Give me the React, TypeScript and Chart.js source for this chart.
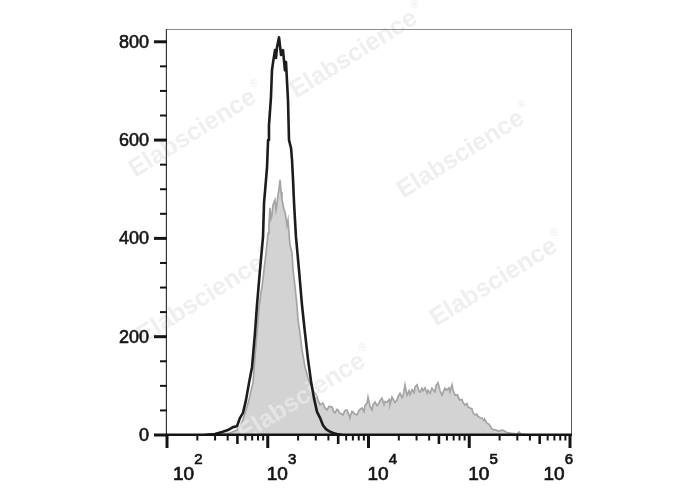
import React, { useEffect, useRef } from "react";
import { Chart, registerables } from "chart.js";

Chart.register(...registerables);

// ---- data (x given as log10 of fluorescence intensity) ----
const blackLogX = [
  2.377, 2.476, 2.546, 2.605, 2.655, 2.695, 2.725, 2.754, 2.784, 2.814,
  2.844, 2.873, 2.893, 2.923, 2.953, 2.963, 2.983, 2.993, 3.003, 3.012,
  3.032, 3.042, 3.052, 3.072, 3.082, 3.092, 3.112, 3.132, 3.151, 3.171,
  3.181, 3.201, 3.211, 3.231, 3.241, 3.251, 3.261, 3.280, 3.310, 3.340,
  3.370, 3.400, 3.429, 3.459, 3.489, 3.519, 3.548, 3.578, 3.608, 3.648,
  3.687, 3.737,
];
const blackCounts = [
  0, 2, 6, 10, 16, 18, 35, 45, 71, 106,
  138, 207, 264, 336, 403, 472, 520, 545, 600, 630,
  687, 742, 757, 783, 767, 789, 809, 773, 783, 742,
  759, 681, 600, 584, 559, 519, 472, 403, 336, 264,
  207, 153, 110, 75, 47, 35, 20, 12, 8, 4,
  2, 0,
];

const grayLogX = [
  2.476, 2.546, 2.625, 2.695, 2.725, 2.754, 2.784, 2.814, 2.834, 2.854,
  2.873, 2.893, 2.913, 2.933, 2.943, 2.963, 2.983, 3.003, 3.012, 3.022,
  3.032, 3.042, 3.052, 3.072, 3.082, 3.092, 3.102, 3.112, 3.122, 3.132,
  3.141, 3.151, 3.161, 3.171, 3.181, 3.191, 3.201, 3.211, 3.221, 3.241,
  3.251, 3.271, 3.290, 3.300, 3.320, 3.340, 3.370, 3.400, 3.419, 3.439,
  3.449, 3.469, 3.489, 3.499,
  3.519, 3.548, 3.568, 3.588, 3.608, 3.638, 3.658, 3.668, 3.687, 3.697,
  3.717, 3.747, 3.767, 3.787, 3.807, 3.816, 3.836, 3.846, 3.866, 3.886,
  3.906, 3.916, 3.936, 3.955, 3.965, 3.985, 3.995, 4.015, 4.035, 4.045,
  4.065, 4.084, 4.094, 4.114, 4.134, 4.154, 4.164, 4.184, 4.204, 4.213,
  4.233, 4.253, 4.263, 4.283, 4.293, 4.313, 4.333, 4.343, 4.362, 4.382,
  4.402, 4.412, 4.432, 4.452, 4.462, 4.482, 4.501, 4.511, 4.531, 4.541,
  4.561, 4.581, 4.591, 4.611, 4.630, 4.640, 4.660, 4.670, 4.690, 4.710,
  4.730, 4.750, 4.759, 4.779, 4.799, 4.809, 4.829, 4.839, 4.859, 4.879,
  4.888, 4.908, 4.928, 4.938, 4.958, 4.978, 4.988, 5.008, 5.027, 5.037,
  5.057, 5.077, 5.087, 5.107, 5.127, 5.147, 5.156, 5.176, 5.196, 5.206,
  5.226, 5.246, 5.256, 5.276, 5.295, 5.305, 5.335, 5.355, 5.375, 5.405,
  5.424, 5.444, 5.474, 5.494, 5.514, 5.554, 5.583,
];
const grayCounts = [
  0, 2, 4, 10, 18, 31, 51, 71, 90, 106,
  160, 207, 260, 290, 301, 336, 370, 410, 427, 462,
  440, 447, 468, 478, 458, 470, 488, 500, 519, 495,
  478, 470, 458, 454, 440, 427, 437, 410, 386, 370,
  336, 301, 264, 234, 207, 173, 138, 116, 106, 96,
  90, 85, 78, 71,
  62, 65, 55, 51, 58, 57, 46, 45, 52, 51,
  44, 41, 50, 51, 40, 37, 48, 47, 42, 41,
  50, 52, 55, 48, 60, 65, 77, 58, 51, 62,
  67, 60, 61, 70, 75, 62, 68, 67, 72, 62,
  77, 70, 66, 71, 78, 85, 76, 80, 102, 81,
  90, 82, 92, 86, 98, 102, 88, 87, 95, 90,
  96, 85, 91, 85, 95, 92, 88, 100, 106, 90,
  81, 92, 95, 92, 96, 88, 102, 91, 81, 82,
  78, 71, 72, 66, 61, 64, 57, 55, 53, 45,
  41, 42, 38, 35, 34, 29, 31, 24, 22, 19,
  12, 10, 11, 9, 8, 9, 10, 7, 5, 4,
  3, 3, 2, 6, 2, 1, 0,
];

const yMajorTicks = [0, 200, 400, 600, 800];
const yMinorTicks = [50, 100, 150, 250, 300, 350, 450, 500, 550, 650, 700, 750];
const xDecades = [2, 3, 4, 5, 6];
const xMinorMultipliers = [2, 3, 4, 5, 6, 7, 8, 9];
const watermarkText = "Elabscience";

const FONT = '"Liberation Sans", Arial, sans-serif';

function heavyText(ctx: CanvasRenderingContext2D, s: string, x: number, y: number) {
  ctx.fillText(s, x, y);
  ctx.strokeText(s, x, y);
}

const axesPlugin = {
  id: "flowAxes",
  afterDatasetDraw(chart: any, args: any) {
    if (args.index !== 1) return; // after the filled gray histogram
    const ctx = chart.ctx;
    const spots = [
      [358, 52], [197, 131], [465, 152], [498, 280], [205, 297], [306, 395],
    ];
    ctx.save();
    ctx.fillStyle = "rgba(234,234,234,0.75)";
    for (const [cx, cy] of spots) {
      ctx.save();
      ctx.translate(cx, cy);
      ctx.rotate((-32 * Math.PI) / 180);
      ctx.font = `bold 25px ${FONT}`;
      const w = ctx.measureText(watermarkText).width;
      ctx.textBaseline = "middle";
      ctx.textAlign = "left";
      ctx.fillText(watermarkText, -w / 2 - 5, 0);
      ctx.font = `bold 11px ${FONT}`;
      ctx.fillText("®", w / 2 - 3, -10);
      ctx.restore();
    }
    ctx.restore();
  },
  afterDraw(chart: any) {
    const ctx = chart.ctx;
    const ca = chart.chartArea;
    const xs = chart.scales.x;
    const ys = chart.scales.y;
    ctx.save();
    // frame
    ctx.lineWidth = 1;
    ctx.strokeStyle = "#8c8c8c";
    ctx.beginPath();
    ctx.moveTo(ca.left - 1, ca.top + 0.5);
    ctx.lineTo(ca.right + 2, ca.top + 0.5);
    ctx.stroke();
    ctx.strokeStyle = "#555";
    ctx.beginPath();
    ctx.moveTo(ca.right + 1.5, ca.top);
    ctx.lineTo(ca.right + 1.5, ca.bottom);
    ctx.stroke();
    ctx.strokeStyle = "#3a3a3a";
    ctx.lineWidth = 1.2;
    ctx.beginPath();
    ctx.moveTo(ca.left - 0.6, ca.top);
    ctx.lineTo(ca.left - 0.6, ca.bottom);
    ctx.stroke();
    // bottom axis
    ctx.strokeStyle = "#151515";
    ctx.lineWidth = 2.6;
    ctx.beginPath();
    ctx.moveTo(ca.left - 1, ca.bottom - 0.3);
    ctx.lineTo(ca.right + 2, ca.bottom - 0.3);
    ctx.stroke();

    // y ticks
    ctx.strokeStyle = "#151515";
    for (const v of yMajorTicks) {
      const y = ys.getPixelForValue(v);
      ctx.lineWidth = 3;
      ctx.beginPath();
      ctx.moveTo(ca.left - 13, y);
      ctx.lineTo(ca.left, y);
      ctx.stroke();
    }
    for (const v of yMinorTicks) {
      const y = ys.getPixelForValue(v);
      ctx.lineWidth = 2;
      ctx.beginPath();
      ctx.moveTo(ca.left - 7, y);
      ctx.lineTo(ca.left, y);
      ctx.stroke();
    }
    ctx.fillStyle = "#141414";
    ctx.strokeStyle = "#141414";
    ctx.lineWidth = 0.6;
    ctx.font = `18px ${FONT}`;
    ctx.textAlign = "right";
    ctx.textBaseline = "middle";
    for (const v of yMajorTicks) {
      const y = ys.getPixelForValue(v);
      heavyText(ctx, String(v), ca.left - 18, y + 1);
    }

    // x ticks
    ctx.strokeStyle = "#151515";
    xDecades.forEach((d, i) => {
      const base = Math.pow(10, d);
      const px = xs.getPixelForValue(base);
      ctx.lineWidth = 3;
      ctx.beginPath();
      ctx.moveTo(px, ca.bottom);
      ctx.lineTo(px, ca.bottom + 13);
      ctx.stroke();
      if (i < xDecades.length - 1) {
        for (const m of xMinorMultipliers) {
          const mx = xs.getPixelForValue(m * base);
          ctx.lineWidth = m === 5 ? 2.6 : 2;
          ctx.beginPath();
          ctx.moveTo(mx, ca.bottom);
          ctx.lineTo(mx, ca.bottom + (m === 5 ? 9 : 5.5));
          ctx.stroke();
        }
      }
    });
    // x labels 10^d
    ctx.textAlign = "left";
    ctx.textBaseline = "alphabetic";
    ctx.fillStyle = "#141414";
    ctx.strokeStyle = "#141414";
    ctx.lineWidth = 0.7;
    xDecades.forEach((d, i) => {
      const px = xs.getPixelForValue(Math.pow(10, d));
      ctx.font = `19px ${FONT}`;
      const w1 = ctx.measureText("10").width;
      ctx.font = `15px ${FONT}`;
      const w2 = ctx.measureText(String(d)).width;
      let left = px - 1;
      if (i === 0) left = px + 6;
      if (i === xDecades.length - 1) left = ca.right + 3 - (w1 + w2);
      ctx.font = `19px ${FONT}`;
      heavyText(ctx, "10", left, ca.bottom + 44.5);
      ctx.font = `15px ${FONT}`;
      heavyText(ctx, String(d), left + w1, ca.bottom + 28.5);
    });
    ctx.restore();
  },
};

export default function App() {
  const ref = useRef<HTMLCanvasElement | null>(null);
  useEffect(() => {
    document.body.style.margin = "0";
    const canvas = ref.current;
    if (!canvas) return;
    const blackData = blackLogX.map((lx, i) => ({ x: Math.pow(10, lx), y: blackCounts[i] }));
    const grayData = grayLogX.map((lx, i) => ({ x: Math.pow(10, lx), y: grayCounts[i] }));
    const chart = new Chart(canvas, {
      type: "line",
      data: {
        datasets: [
          {
            label: "Stained",
            data: blackData,
            borderColor: "#1c1c1c",
            borderWidth: 2.6,
            fill: false,
            pointRadius: 0,
            tension: 0,
            borderJoinStyle: "round",
          },
          {
            label: "Control",
            data: grayData,
            borderColor: "#a4a4a4",
            borderWidth: 1.7,
            backgroundColor: "#d3d3d3",
            fill: "origin",
            pointRadius: 0,
            tension: 0,
          },
        ],
      },
      options: {
        animation: false,
        responsive: false,
        maintainAspectRatio: false,
        events: [],
        layout: { padding: { left: 167, right: 118, top: 29, bottom: 55 } },
        plugins: { legend: { display: false }, tooltip: { enabled: false } },
        scales: {
          x: { type: "logarithmic", min: 100, max: 1000000, display: false },
          y: { type: "linear", min: 0, max: 826, display: false },
        },
      },
      plugins: [axesPlugin],
    } as any);
    return () => chart.destroy();
  }, []);
  return (
    <div style={{ width: 688, height: 490, background: "#fff" }}>
      <canvas ref={ref} width={688} height={490} style={{ display: "block" }} />
    </div>
  );
}
